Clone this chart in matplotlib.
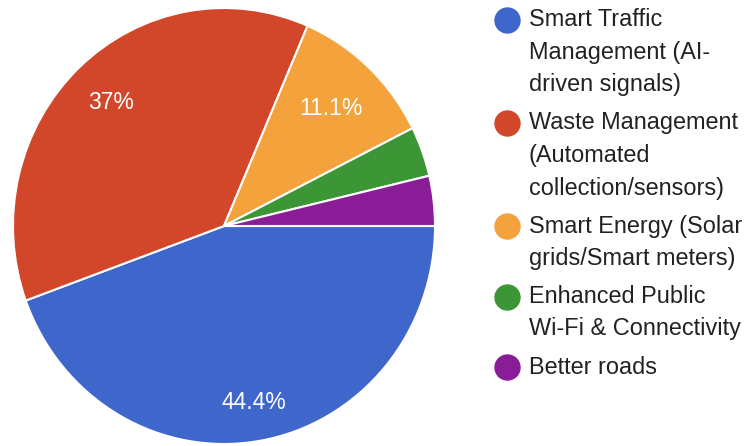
import numpy as np
import matplotlib
matplotlib.use("Agg")
import matplotlib.pyplot as plt

plt.rcParams['font.family'] = ['Liberation Sans', 'DejaVu Sans']

categories = [
    "Smart Traffic\nManagement (AI-\ndriven signals)",
    "Waste Management\n(Automated\ncollection/sensors)",
    "Smart Energy (Solar\ngrids/Smart meters)",
    "Enhanced Public\nWi-Fi & Connectivity",
    "Better roads",
]
counts = [12, 10, 3, 1, 1]
colors = ["#3F66CA", "#D2472A", "#F3A23C", "#3C9636", "#8B1C97"]
label_dist = [0.82, 0.78, 0.74, 0.8, 0.8]

W, H = 744, 446
fig = plt.figure(figsize=(W / 100, H / 100), dpi=100)

cx, cy, rx, ry = 224, 226, 211, 218
ax = fig.add_axes([(cx - rx) / W, (H - cy - ry) / H, 2 * rx / W, 2 * ry / H])


def fmt(p):
    return f"{p:.1f}%".replace(".0%", "%") if p >= 5 else ""


wedges, texts, autotexts = ax.pie(
    counts, colors=colors, startangle=0, counterclock=False,
    autopct=fmt, pctdistance=0.8,
    wedgeprops=dict(edgecolor="white", linewidth=1.5),
    textprops=dict(color="white", fontsize=16.5),
)
for w, t, d in zip(wedges, autotexts, label_dist):
    mid = np.deg2rad((w.theta1 + w.theta2) / 2)
    t.set_position((d * np.cos(mid), d * np.sin(mid)))
ax.set_xlim(-1.0, 1.0)
ax.set_ylim(-1.0, 1.0)
ax.set_aspect("auto")

# legend drawn in pixel coordinates
lax = fig.add_axes([0, 0, 1, 1])
lax.set_xlim(0, W)
lax.set_ylim(H, 0)
lax.axis("off")

line_h = 32.5
gap = 5.5
y = 20
for lab, col in zip(categories, colors):
    lines = lab.split("\n")
    lax.plot([507], [y], marker="o", ms=18, color=col, mec=col)
    for k, ln in enumerate(lines):
        lax.text(529, y + k * line_h, ln, fontsize=16.9, color="#222222",
                 va="center", ha="left")
    y += len(lines) * line_h + gap

fig.savefig("out.png", dpi=100)
